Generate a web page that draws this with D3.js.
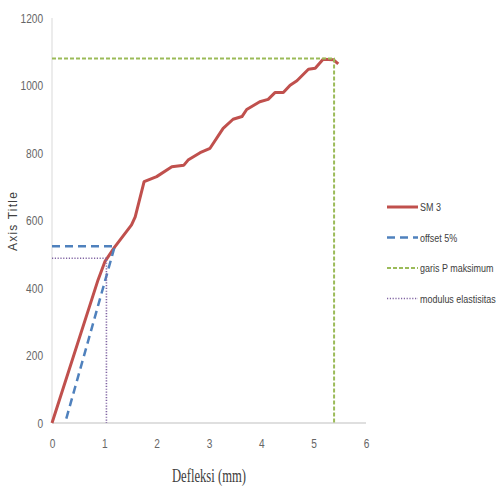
<!DOCTYPE html>
<html><head><meta charset="utf-8">
<script src="https://cdn.jsdelivr.net/npm/d3@7"></script>
<style>body{margin:0;background:#fff}svg{display:block}</style>
</head><body>
<svg id="c" width="502" height="488"></svg>
<script>
const sm3X = [0, 0.88, 1.01, 1.20, 1.52, 1.59, 1.76, 2.00, 2.29, 2.52, 2.60, 2.83, 3.02, 3.27, 3.46, 3.63, 3.72, 3.97, 4.13, 4.26, 4.42, 4.55, 4.68, 4.90, 5.03, 5.18, 5.38, 5.47];
const sm3Y = [0, 424, 478, 522, 587, 611, 715, 730, 759, 764, 779, 801, 814, 873, 900, 908, 929, 952, 959, 979, 979, 1001, 1014, 1048, 1051, 1078, 1076, 1064];
const offsetX = [0, 1.20, 0.25];
const offsetY = [524, 524, 0];
const pmaxX = [0, 5.39, 5.39];
const pmaxY = [1080, 1080, 0];
const modX = [0, 1.04, 1.04];
const modY = [488, 488, 0];
const xTicks = [0, 1, 2, 3, 4, 5, 6];
const yTicks = [0, 200, 400, 600, 800, 1000, 1200];
const seriesNames = ["SM 3", "offset 5%", "garis P maksimum", "modulus elastisitas"];
const xTitle = "Defleksi (mm)";
const yTitle = "Axis Title";

const svg = d3.select("#c");
const x = d3.scaleLinear().domain([0, 6]).range([52, 366]);
const y = d3.scaleLinear().domain([0, 1200]).range([423, 18]);
const sans = "'Liberation Sans', Arial, sans-serif";
const squeeze = 0.78;

// axes lines
svg.append("line").attr("x1", x(0)).attr("x2", x(0)).attr("y1", y(1200)).attr("y2", y(0))
  .attr("stroke", "#d9d9d9").attr("stroke-width", 1);
svg.append("line").attr("x1", x(0)).attr("x2", x(6)).attr("y1", y(0)).attr("y2", y(0))
  .attr("stroke", "#bfbfbf").attr("stroke-width", 1.2);

// y tick labels
const yAxis = d3.axisLeft(y).tickValues(yTicks).tickSize(0).tickPadding(11.5).tickFormat(d3.format("d"));
const gy = svg.append("g").attr("transform", `translate(${x(0)},0)`).call(yAxis);
gy.select(".domain").remove();
gy.selectAll("text").attr("font-family", sans).attr("font-size", 13).attr("fill", "#666")
  .attr("transform", `scale(${squeeze},1)`);

const xAxis = d3.axisBottom(x).tickValues(xTicks).tickSize(0).tickPadding(16).tickFormat(d3.format("d"));
const gx = svg.append("g").attr("transform", `translate(0,${y(0)})`).call(xAxis);
gx.select(".domain").remove();
gx.selectAll("text").attr("font-family", sans).attr("font-size", 13).attr("fill", "#666")
  .attr("transform", `scale(${squeeze},1)`);

// axis titles
svg.append("text").attr("x", 209).attr("y", 482).attr("text-anchor", "middle")
  .attr("font-family", "'Liberation Serif', 'Times New Roman', serif").attr("font-size", 18)
  .attr("fill", "#404040").attr("textLength", 74).attr("lengthAdjust", "spacingAndGlyphs").text(xTitle);
svg.append("text").attr("transform", "translate(17,221) rotate(-90)").attr("text-anchor", "middle")
  .attr("font-family", sans).attr("font-size", 12).attr("letter-spacing", 1.2)
  .attr("fill", "#404040").text(yTitle);

const line = d3.line().x(d => x(d[0])).y(d => y(d[1]));
const series = [
  {xs: sm3X, ys: sm3Y, color: "#C0504D", w: 3, dash: null},
  {xs: offsetX, ys: offsetY, color: "#4F81BD", w: 2.5, dash: "8,5"},
  {xs: pmaxX, ys: pmaxY, color: "#9BBB59", w: 2, dash: "4,2"},
  {xs: modX, ys: modY, color: "#8064A2", w: 1.6, dash: "1.2,1.6"}
];
series.forEach(s => {
  const pts = s.xs.map((v, i) => [v, s.ys[i]]);
  const p = svg.append("path").datum(pts).attr("d", line).attr("fill", "none")
    .attr("stroke", s.color).attr("stroke-width", s.w).attr("stroke-linejoin", "round");
  if (s.dash) p.attr("stroke-dasharray", s.dash);
});

// legend
const legY = [207, 237.5, 268, 298.5];
series.forEach((s, i) => {
  const l = svg.append("line").attr("x1", 387).attr("x2", 418).attr("y1", legY[i]).attr("y2", legY[i])
    .attr("stroke", s.color).attr("stroke-width", s.w);
  if (s.dash) l.attr("stroke-dasharray", s.dash);
  svg.append("g").attr("transform", `translate(420,${legY[i] + 4}) scale(${squeeze},1)`)
    .append("text").attr("font-family", sans)
    .attr("font-size", 11.5).attr("fill", "#404040").text(seriesNames[i]);
});
</script>
</body></html>
